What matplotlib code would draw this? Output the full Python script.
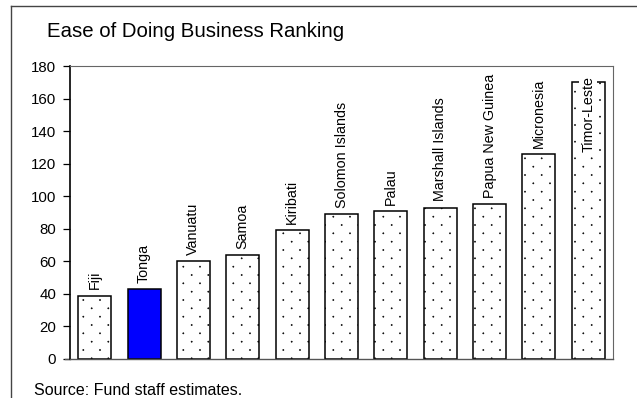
import numpy as np
import matplotlib
matplotlib.use("Agg")
import matplotlib.pyplot as plt
import matplotlib.hatch as mhatch
from matplotlib.path import Path
from matplotlib.lines import Line2D

countries = ["Fiji", "Tonga", "Vanuatu", "Samoa", "Kiribati", "Solomon Islands",
             "Palau", "Marshall Islands", "Papua New Guinea", "Micronesia", "Timor-Leste"]
ranking = [39, 43, 60, 64, 79, 89, 91, 93, 95, 126, 170]
highlight = "Tonga"


class StaggeredDots(mhatch.HatchPatternBase):
    # offset dot grid: rows twice as close as columns, every other row shifted
    def __init__(self, hatch, density):
        cols = hatch.count('.') * density
        rows = 2 * cols
        circle = Path.unit_circle()
        self.circ_v, self.circ_c = circle.vertices, circle.codes
        self.centers = []
        for k in range(rows + 1 if cols else 0):
            y = k / rows
            if k % 2 == 0:
                xs = np.linspace(0, 1, cols + 1)
            else:
                xs = (np.arange(cols) + 0.5) / cols
            self.centers += [(x, y) for x in xs]
        self.num_vertices = len(self.centers) * len(self.circ_v)

    def set_vertices_and_codes(self, vertices, codes):
        n = len(self.circ_v)
        for i, (x, y) in enumerate(self.centers):
            vertices[i * n:(i + 1) * n] = self.circ_v * 0.006 + (x, y)
            codes[i * n:(i + 1) * n] = self.circ_c


mhatch._hatch_types = [StaggeredDots if t is mhatch.SmallFilledCircles else t
                       for t in mhatch._hatch_types]

plt.rcParams['font.family'] = ['Liberation Sans', 'DejaVu Sans']
plt.rcParams['hatch.linewidth'] = 0.4
plt.rcParams['hatch.color'] = '#222222'

fig = plt.figure(figsize=(6.37, 3.98), dpi=100)
ax = fig.add_axes([70 / 637, 1 - 359 / 398, 543 / 637, 293 / 398])

for i, (name, val) in enumerate(zip(countries, ranking)):
    if name == highlight:
        ax.bar(i, val, width=0.67, color="#0000ff", edgecolor="black", linewidth=1.1, zorder=2)
    else:
        ax.bar(i, val, width=0.67, color="white", edgecolor="black", linewidth=1.1,
               hatch=".", zorder=2)

for i, (name, val) in enumerate(zip(countries, ranking)):
    if val > 150:
        # label sits inside the tall bar, knocking out its top edge
        ax.text(i, val + 4, name, rotation=90, ha="center", va="top", fontsize=10.3,
                zorder=3, bbox=dict(facecolor="white", edgecolor="none", pad=1.5))
    else:
        ax.annotate(name, (i, val), xytext=(0, 4.5), textcoords="offset points",
                    rotation=90, ha="center", va="bottom", fontsize=10.3)

ax.set_xlim(-0.5, len(countries) - 0.5)
ax.set_ylim(0, 180)
ax.set_yticks(range(0, 181, 20))
ax.set_xticks([])
ax.tick_params(axis="y", direction="out", length=5, width=0.9, pad=5, labelsize=10.8)

for side in ("top", "right"):
    ax.spines[side].set_color("#666666")
    ax.spines[side].set_linewidth(0.8)
ax.spines["left"].set_color("black")
ax.spines["left"].set_linewidth(1.2)
ax.spines["bottom"].set_color("#555555")
ax.spines["bottom"].set_linewidth(1.0)
ax.plot([-0.5 - 5 / 49.4, -0.5], [0, 0], color="#555555", lw=1.0, clip_on=False)

# outer frame running off the right and bottom edges
fig.add_artist(Line2D([11 / 637, 11 / 637], [1 - 6 / 398, 0], transform=fig.transFigure,
                      color="#444444", lw=1.0))
fig.add_artist(Line2D([11 / 637, 1], [1 - 6 / 398, 1 - 6 / 398], transform=fig.transFigure,
                      color="#444444", lw=1.0))

fig.text(47 / 637, 1 - 37 / 398, "Ease of Doing Business Ranking", fontsize=14.7,
         va="baseline", ha="left")
fig.text(34 / 637, 1 - 395 / 398, "Source: Fund staff estimates.", fontsize=11.5,
         va="baseline", ha="left")

fig.savefig("out.png", dpi=100)
